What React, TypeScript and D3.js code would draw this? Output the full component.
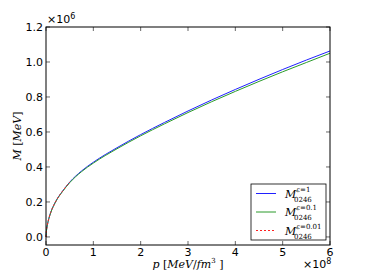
import * as d3 from 'd3';
import React from 'react';

// pressure in units of 1e8 MeV/fm^3
const pressure = [0, 0.01, 0.03, 0.06, 0.1, 0.2, 0.35, 0.5, 0.75, 1, 1.5, 2, 2.5, 3, 3.5, 4, 4.5, 5, 5.5, 6];
// mass in units of 1e6 MeV
const massEps1 = [0, 0.035, 0.07, 0.105, 0.14, 0.2, 0.262, 0.313, 0.377, 0.427, 0.51, 0.585, 0.654, 0.72, 0.783, 0.843, 0.901, 0.957, 1.011, 1.063];
const massEps01 = [0, 0.035, 0.07, 0.105, 0.139, 0.199, 0.26, 0.31, 0.373, 0.422, 0.504, 0.578, 0.646, 0.711, 0.773, 0.832, 0.889, 0.944, 0.997, 1.05];
const pressureEps001 = [0, 0.01, 0.03, 0.06, 0.1, 0.2, 0.35, 0.5];
const massEps001 = [0, 0.035, 0.07, 0.105, 0.14, 0.2, 0.262, 0.313];

const xTicks = [0, 1, 2, 3, 4, 5, 6];
const yTicks = [0, 0.2, 0.4, 0.6, 0.8, 1.0, 1.2];

const series = [
   { eps: '1', color: '#2020ff', dash: '', xs: pressure, ys: massEps1 },
   { eps: '0.1', color: '#2a9a2a', dash: '', xs: pressure, ys: massEps01 },
   { eps: '0.01', color: '#ff2020', dash: '2,2', xs: pressureEps001, ys: massEps001 },
];

const W = 367;
const H = 273;
const margin = { top: 27, right: 37, bottom: 28, left: 46 };

const App = () => {
   const innerW = W - margin.left - margin.right;
   const innerH = H - margin.top - margin.bottom;
   const x = d3.scaleLinear().domain([0, 6]).range([0, innerW]);
   const y = d3.scaleLinear().domain([-0.046, 1.2]).range([innerH, 0]);

   const tickFont = { fontFamily: 'DejaVu Sans', fontSize: 11 };
   const mathFont = { fontFamily: 'DejaVu Serif', fontStyle: 'italic' as const };

   return (
      <svg width={W} height={H} style={{ position: 'absolute', left: 0, top: 0, background: '#fff' }}>
         <g transform={`translate(${margin.left},${margin.top})`}>
            {series.map((s) => {
               const path = d3
                  .line<number>()
                  .x((_, i) => x(s.xs[i]))
                  .y((d) => y(d))
                  .curve(d3.curveMonotoneX)(s.ys);
               return (
                  <path
                     key={s.eps}
                     d={path ?? ''}
                     fill="none"
                     stroke={s.color}
                     strokeWidth={1}
                     strokeDasharray={s.dash}
                  />
               );
            })}
            <rect x={0} y={0} width={innerW} height={innerH} fill="none" stroke="#000" strokeWidth={1} />
            {xTicks.map((t) => (
               <g key={'x' + t} transform={`translate(${x(t)},0)`}>
                  <line y1={innerH} y2={innerH - 4} stroke="#000" strokeWidth={0.6} />
                  <line y1={0} y2={4} stroke="#000" strokeWidth={0.6} />
                  <text y={innerH + 11} textAnchor="middle" {...tickFont}>
                     {t}
                  </text>
               </g>
            ))}
            {yTicks.map((t) => (
               <g key={'y' + t} transform={`translate(0,${y(t)})`}>
                  <line x1={0} x2={4} stroke="#000" strokeWidth={0.6} />
                  <line x1={innerW} x2={innerW - 4} stroke="#000" strokeWidth={0.6} />
                  <text x={-3} dy="0.35em" textAnchor="end" {...tickFont}>
                     {t.toFixed(1)}
                  </text>
               </g>
            ))}
            {/* offset texts */}
            <text x={1} y={-4} {...tickFont}>
               ×10<tspan fontSize={8} dy={-4}>6</tspan>
            </text>
            <text x={innerW - 27} y={innerH + 23} {...tickFont}>
               ×10<tspan fontSize={8} dy={-4}>8</tspan>
            </text>
            {/* legend */}
            <g transform={`translate(${innerW - 79},${innerH - 61})`}>
               <rect width={75} height={56} fill="#fff" stroke="#000" strokeWidth={0.8} />
               {series.map((s, i) => (
                  <g key={'l' + s.eps} transform={`translate(0,${9.5 + i * 18.5})`}>
                     <line
                        x1={5}
                        x2={25}
                        stroke={s.color}
                        strokeWidth={1}
                        strokeDasharray={s.dash}
                     />
                     <text x={34} y={4} fontSize={11} {...mathFont}>
                        M
                        <tspan fontSize={7} dy={-6} fontStyle="italic">
                           ε=
                        </tspan>
                        <tspan fontSize={7} fontStyle="normal">{s.eps}</tspan>
                        <tspan fontSize={7} x={43} dy={10} fontStyle="normal">
                           0246
                        </tspan>
                     </text>
                  </g>
               ))}
            </g>
         </g>
         {/* axis labels */}
         <text x={margin.left + innerW / 2} y={H - 5} textAnchor="middle" fontSize={11} fontFamily="DejaVu Serif">
            <tspan fontStyle="italic">p</tspan> [<tspan fontStyle="italic">MeV</tspan>/
            <tspan fontStyle="italic">fm</tspan>
            <tspan fontSize={7} dy={-5}>3</tspan>
            <tspan dy={5}> ]</tspan>
         </text>
         <text
            transform={`translate(21,${margin.top + innerH / 2}) rotate(-90)`}
            textAnchor="middle"
            fontSize={11}
            fontFamily="DejaVu Serif"
         >
            <tspan fontStyle="italic">M</tspan> [<tspan fontStyle="italic">MeV</tspan>]
         </text>
      </svg>
   );
};

export default App;
